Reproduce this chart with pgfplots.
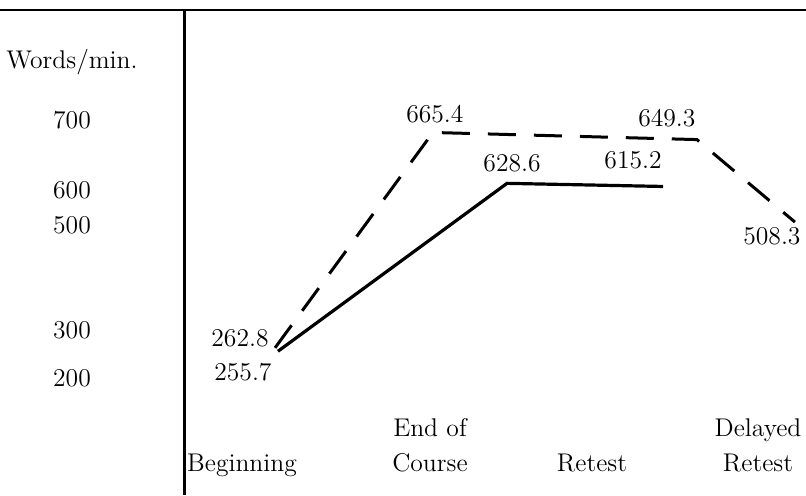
\documentclass[border=0pt]{standalone}
\usepackage{pgfplots}
\pgfplotsset{compat=1.18}
\begin{document}
\begin{tikzpicture}
\newcommand{\lf}{\fontsize{12.8}{17.5}\selectfont}
\begin{axis}[
  scale only axis, width=310.5pt, height=242.5pt,
  xmin=-0.3314, xmax=3.2791,
  ymin=-43.75, ymax=1005.6,
  y coord trafo/.code={\pgfmathparse{-( (#1)<300 ? 330+(300-(#1))*0.48 : ((#1)<500 ? 330-((#1)-300)*0.525 : ((#1)<600 ? 225-((#1)-500)*0.35 : ((#1)<630 ? 190-((#1)-600)*0.2333 : ((#1)<650 ? 183-((#1)-630)*2.25 : 138-((#1)-650)*0.36)))))}},
  axis lines*=left,
  x axis line style={draw=none},
  y axis line style={line width=1.5pt},
  tick style={draw=none},
  ytick={200,300,500,600,700},
  yticklabels={200,300,500,600,700},
  yticklabel style={anchor=center, xshift=-56.5pt, font=\lf},
  xtick={0,1.093,2.035,3},
  xticklabels={{Beginning\strut},{End of\\Course\strut},{Retest\strut},{Delayed\\Retest\strut}},
  xticklabel style={anchor=south, align=center, yshift=3pt, font=\lf},
  clip=false,
]
\addplot[line width=1.5pt, dash pattern=on 14pt off 9pt] coordinates {(0.192,262.8) (1.110,665.4) (2.645,649.3) (3.215,508.3)};
\addplot[line width=1.6pt] coordinates {(0.209,255.7) (1.541,628.6) (2.448,615.2)};
\node[font=\lf, xshift=1pt, yshift=9pt] at (axis cs:1.110,665.4) {665.4};
\node[font=\lf, xshift=-15pt, yshift=10.5pt] at (axis cs:2.645,649.3) {649.3};
\node[font=\lf, xshift=-11.5pt, yshift=-7pt] at (axis cs:3.215,508.3) {508.3};
\node[font=\lf, xshift=-17.5pt, yshift=5pt] at (axis cs:0.192,262.8) {262.8};
\node[font=\lf, xshift=2.5pt, yshift=10pt] at (axis cs:1.541,628.6) {628.6};
\node[font=\lf, xshift=-15pt, yshift=13pt] at (axis cs:2.448,615.2) {615.2};
\node[font=\lf, xshift=-17.5pt, yshift=-10.35pt] at (axis cs:0.209,255.7) {255.7};
\node[font=\lf, xshift=-56.5pt] at (rel axis cs:0,0.8928) {Words/min.};
\coordinate (ll) at (rel axis cs:0,0);
\coordinate (ur) at (rel axis cs:1,1);
\end{axis}
\draw[line width=1.3pt] (ll|-ur) ++(-92.5pt,0) -- (ur);
\pgfresetboundingbox
\useasboundingbox ([xshift=-92.5pt]ll) rectangle ([yshift=5pt]ur);
\end{tikzpicture}
\end{document}
